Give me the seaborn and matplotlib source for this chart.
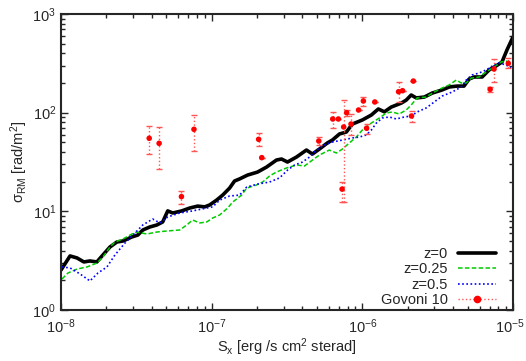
import matplotlib
matplotlib.use("Agg")
import matplotlib.pyplot as plt
from matplotlib.lines import Line2D
from matplotlib.ticker import FuncFormatter, LogFormatterSciNotation
import seaborn as sns
import pandas as pd
import numpy as np

# z = 0
x_z0 = [1.0e-8, 1.148e-8, 1.277e-8, 1.418e-8, 1.556e-8, 1.730e-8, 1.897e-8, 2.113e-8, 2.350e-8, 2.576e-8,
        2.953e-8, 3.236e-8, 3.493e-8, 3.884e-8, 4.325e-8, 4.73e-8, 5.11e-8, 5.52e-8, 6.33e-8, 7.15e-8,
        8.07e-8, 8.99e-8, 9.70e-8, 1.079e-7, 1.183e-7, 1.315e-7, 1.419e-7, 1.532e-7, 1.730e-7, 2.016e-7,
        2.314e-7, 2.692e-7, 2.908e-7, 3.186e-7, 3.655e-7, 4.256e-7, 4.665e-7, 5.19e-7, 5.86e-7, 6.33e-7,
        7.05e-7, 7.84e-7, 8.59e-7, 1.0e-6, 1.148e-6, 1.277e-6, 1.400e-6, 1.556e-6, 1.813e-6, 1.955e-6,
        2.11e-6, 2.28e-6, 2.58e-6, 2.91e-6, 3.39e-6, 3.77e-6, 4.26e-6, 4.73e-6, 5.11e-6, 5.52e-6,
        6.24e-6, 6.94e-6, 7.71e-6, 8.45e-6, 9.12e-6, 1.0e-5]
y_z0 = [2.54, 3.53, 3.37, 3.07, 3.14, 3.07, 3.61, 4.35, 4.89, 5.00,
        5.50, 5.75, 6.47, 6.94, 7.27, 7.80, 10.1, 9.62, 10.1, 10.8,
        11.3, 11.1, 11.6, 13.0, 14.6, 17.2, 20.3, 21.3, 23.3, 25.0,
        28.1, 33.1, 33.9, 31.6, 35.5, 41.8, 38.1, 42.8, 49.3, 52.8,
        60.8, 63.7, 76.7, 84.3, 94.7, 109, 102, 114, 125, 134,
        151, 141, 144, 158, 170, 182, 186, 186, 219, 230,
        230, 271, 297, 326, 432, 585]

# z = 0.25
x_z025 = [1.015e-8, 1.112e-8, 1.277e-8, 1.487e-8, 1.730e-8, 1.897e-8, 2.113e-8, 2.28e-8, 2.576e-8, 2.953e-8,
          3.186e-8, 3.715e-8, 4.325e-8, 5.04e-8, 6.14e-8, 6.83e-8, 7.48e-8, 8.33e-8, 9.27e-8, 1.016e-7,
          1.130e-7, 1.277e-7, 1.377e-7, 1.581e-7, 1.706e-7, 1.986e-7, 2.18e-7, 2.42e-7, 2.69e-7, 3.14e-7,
          3.66e-7, 4.13e-7, 4.67e-7, 5.19e-7, 6.04e-7, 6.73e-7, 7.38e-7, 8.20e-7, 9.12e-7, 1.0e-6,
          1.148e-6, 1.297e-6, 1.443e-6, 1.581e-6, 1.758e-6, 1.955e-6, 2.11e-6, 2.31e-6, 2.65e-6, 3.00e-6,
          3.39e-6, 3.77e-6, 4.20e-6, 4.53e-6, 4.89e-6, 5.28e-6, 5.96e-6, 6.62e-6, 7.48e-6, 8.33e-6,
          9.0e-6, 9.70e-6]
y_z025 = [2.06, 2.37, 2.60, 2.73, 2.99, 3.44, 4.35, 4.89, 5.24, 5.89,
          6.17, 5.89, 6.17, 6.32, 6.47, 7.27, 8.17, 7.62, 7.80, 8.56,
          9.18, 10.8, 12.4, 14.6, 17.2, 18.5, 19.8, 22.8, 25.0, 27.5,
          29.5, 28.8, 33.1, 37.2, 41.8, 39.0, 42.8, 49.3, 56.6, 66.7,
          78.5, 88.3, 99.3, 101.6, 96.9, 106.4, 119.6, 141, 144, 162,
          178, 191, 214, 200, 200, 224, 230, 258, 290, 326,
          334, 304]

# z = 0.5
x_z05 = [1.015e-8, 1.148e-8, 1.337e-8, 1.556e-8, 1.758e-8, 2.018e-8, 2.28e-8, 2.66e-8, 3.00e-8, 3.49e-8,
         4.06e-8, 4.53e-8, 5.11e-8, 6.14e-8, 7.48e-8, 8.71e-8, 1.016e-7, 1.130e-7, 1.315e-7, 1.532e-7,
         1.706e-7, 2.016e-7, 2.42e-7, 2.82e-7, 3.19e-7, 3.55e-7, 4.01e-7, 4.46e-7, 4.96e-7, 5.60e-7,
         6.33e-7, 7.38e-7, 8.59e-7, 9.55e-7, 1.062e-6, 1.148e-6, 1.239e-6, 1.357e-6, 1.510e-6, 1.680e-6,
         1.897e-6, 2.11e-6, 2.31e-6, 2.65e-6, 3.00e-6, 3.39e-6, 3.95e-6, 4.53e-6, 4.89e-6, 5.34e-6,
         5.96e-6, 6.62e-6, 7.48e-6, 8.07e-6, 9.0e-6, 9.70e-6]
y_z05 = [2.73, 2.67, 2.32, 1.97, 2.37, 2.73, 3.61, 4.78, 5.75, 7.27,
         8.36, 7.62, 8.77, 9.62, 10.1, 10.6, 11.1, 13.0, 14.3, 14.6,
         17.6, 18.9, 19.8, 21.8, 26.2, 29.5, 31.6, 35.5, 41.8, 47.0,
         50.4, 52.8, 55.4, 56.6, 59.4, 66.7, 78.5, 88.3, 90.4, 86.3,
         90.4, 92.5, 101.6, 111.5, 128.3, 147.5, 162, 182, 214, 241,
         252, 271, 304, 319, 304, 284]

# Govoni 10 observations
x_obs = [3.85e-8, 4.48e-8, 6.30e-8, 7.63e-8, 2.05e-7, 2.15e-7, 5.14e-7, 6.36e-7, 6.93e-7, 7.52e-7,
         7.34e-7, 7.87e-7, 8.41e-7, 9.44e-7, 1.016e-6, 1.067e-6, 1.210e-6, 1.740e-6, 1.849e-6, 2.18e-6,
         2.12e-6, 7.05e-6, 7.48e-6, 9.31e-6]
y_obs = [55.0, 48.9, 14.1, 67.8, 53.7, 35.0, 51.6, 86.3, 86.3, 71.6,
         16.8, 99.9, 76.7, 106.4, 131.3, 69.5, 128.3, 163, 167, 209,
         92.5, 172.6, 277, 316]
y_obs_hi = [73.3, 71.1, 16.2, 95.3, 61.8, 35.0, 56.6, 101.6, 86.3, 134.4,
            19.8, 106.4, 96.9, 106.4, 145, 76.7, 128.3, 206, 167, 209,
            104.7, 183, 350, 356]
y_obs_lo = [38.1, 26.7, 11.9, 40.6, 45.9, 35.0, 47.0, 69.9, 86.3, 12.4,
            12.4, 92.5, 59.4, 106.4, 117.7, 60.8, 128.3, 129, 167, 209,
            81.0, 161, 205, 282]

sns.set_style("ticks")
plt.rcParams['font.family'] = ['Liberation Sans', 'DejaVu Sans']
plt.rcParams['mathtext.fontset'] = 'custom'
plt.rcParams['mathtext.rm'] = 'Liberation Sans'
plt.rcParams['mathtext.it'] = 'Liberation Sans:italic'
plt.rcParams['mathtext.default'] = 'regular'

fig = plt.figure(figsize=(5.26, 3.61), dpi=100)
ax = fig.add_axes([61/526, 51/361, 452/526, 296/361])

df0 = pd.DataFrame({"x": x_z0, "y": y_z0})
df1 = pd.DataFrame({"x": x_z025, "y": y_z025})
df2 = pd.DataFrame({"x": x_z05, "y": y_z05})

sns.lineplot(data=df0, x="x", y="y", ax=ax, color="black", lw=2.6, sort=False, estimator=None)
sns.lineplot(data=df1, x="x", y="y", ax=ax, color="#00cc00", lw=1.1, sort=False, estimator=None)
ax.lines[-1].set_linestyle((0, (3, 1.5)))
sns.lineplot(data=df2, x="x", y="y", ax=ax, color="#0000ff", lw=1.2, sort=False, estimator=None)
ax.lines[-1].set_linestyle((0, (1, 1.5)))

yo = np.array(y_obs)
yerr = [yo - np.array(y_obs_lo), np.array(y_obs_hi) - yo]
ax.errorbar(x_obs, y_obs, yerr=yerr, fmt='none', ecolor='#ff5555', elinewidth=1.0,
            capsize=2.5, capthick=1.0, zorder=3)
ax.collections[-1].set_linestyle(':')
sns.scatterplot(x=x_obs, y=y_obs, ax=ax, color='#ff0000', s=16, edgecolor='none', zorder=4, legend=False)

ax.set_xscale('log')
ax.set_yscale('log')
ax.set_xlim(1e-8, 1e-5)
ax.set_ylim(1, 1000)

sci = LogFormatterSciNotation()
def xfmt(v, pos):
    if v > 0.5e-5:
        return ""
    return sci(v, pos)
ax.xaxis.set_major_formatter(FuncFormatter(xfmt))

ax.set_xlabel("S$_x$ [erg /s cm$^2$ sterad]", fontsize=10.5, labelpad=0)
ax.set_ylabel("σ$_{RM}$ [rad/m$^2$]", fontsize=10.5, labelpad=2)

ax.tick_params(which='both', direction='in', top=True, right=True, labelsize=10.5, width=1.0)
ax.tick_params(which='major', length=5)
ax.tick_params(which='minor', length=3)
ax.tick_params(axis='x', which='major', pad=5.5)
for s in ax.spines.values():
    s.set_linewidth(1.5)
    s.set_visible(True)

# last x tick label, kept inside the canvas
ax.annotate(r"$\mathdefault{10^{-5}}$", xy=(1.0, 0.0), xycoords='axes fraction',
            xytext=(0, -5.5), textcoords='offset points', ha='center', va='top',
            fontsize=10.5, annotation_clip=False)
fig.canvas.draw()
t = ax.texts[-1]
bb = t.get_window_extent()
over = bb.x1 - (fig.bbox.width - 1)
if over > 0:
    t.set_position((-over * 72 / fig.dpi, -5.5))

handles = [Line2D([], [], color='black', lw=2.6),
           Line2D([], [], color='#00cc00', lw=1.1, ls=(0, (3, 1.5))),
           Line2D([], [], color='#0000ff', lw=1.2, ls=(0, (1, 1.5))),
           Line2D([], [], color='#ff5555', lw=1.0, ls=':', marker='o', markersize=4.5,
                  markerfacecolor='#ff0000', markeredgecolor='#ff0000')]
labels = ["z=0", "z=0.25", "z=0.5", "Govoni 10"]
leg = ax.legend(handles, labels, loc='lower right', frameon=False, markerfirst=False,
                fontsize=10.5, handlelength=2.6, labelspacing=0.1, handletextpad=0.7,
                borderaxespad=0.0, numpoints=1, bbox_to_anchor=(0.975, -0.01))

fig.savefig("out.png", dpi=100)
